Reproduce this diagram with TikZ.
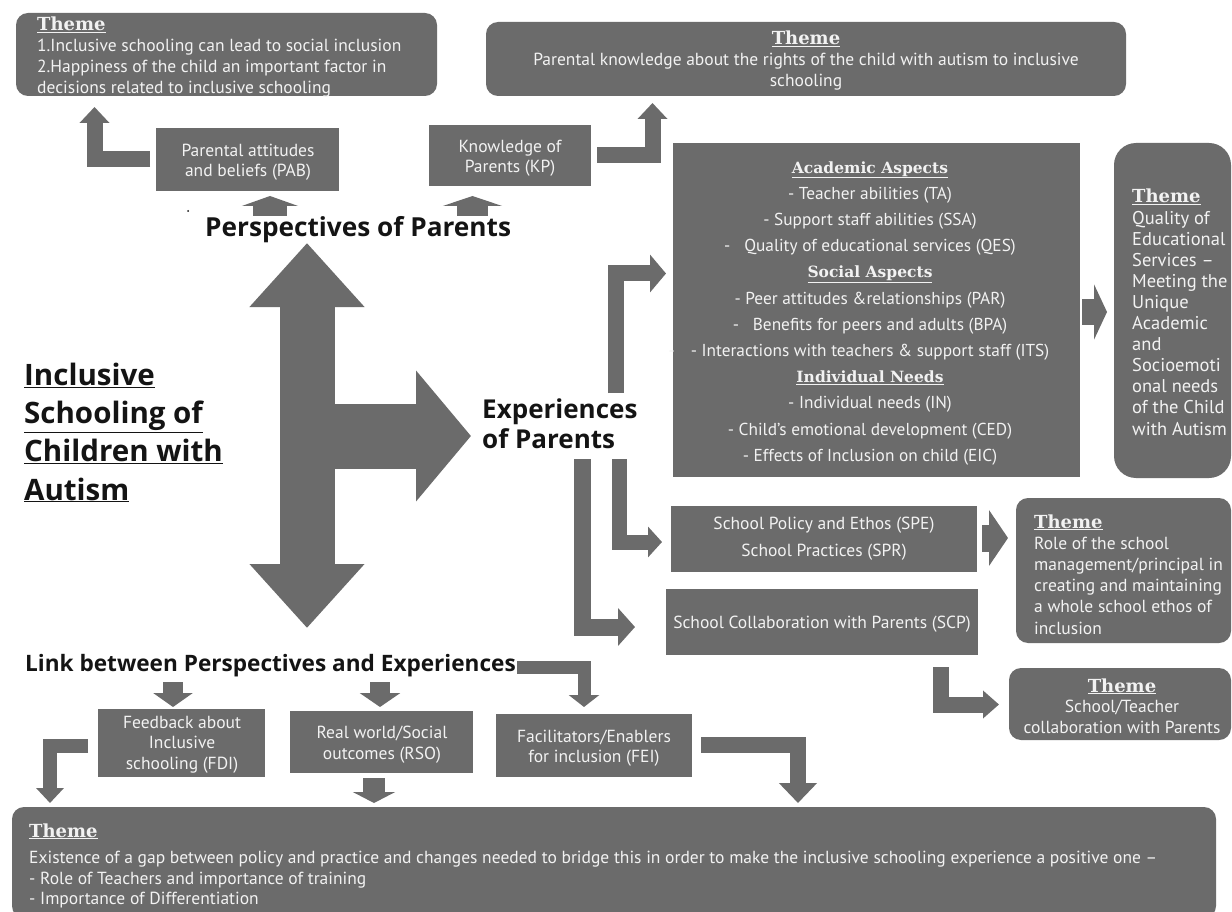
\documentclass[tikz,border=0pt]{standalone}
\usepackage{fontspec}
\setmainfont{PT Sans}
\newfontfamily\hfont{Open Sans}
\newfontfamily\serifhd{DejaVu Serif}
\usetikzlibrary{arrows.meta,calc}
\definecolor{boxgray}{HTML}{6B6B6B}
\definecolor{boxtext}{HTML}{F2F2F2}
\definecolor{darktext}{HTML}{141414}
\newcommand{\Hd}[2]{{\serifhd\bfseries\fontsize{#1}{#1}\selectfont\underline{#2}}}
\newcommand{\BoxAt}[6]{%
  \pgfmathsetmacro\bw{#5-#3}\pgfmathsetmacro\bh{#6-#4}%
  \pgfmathsetmacro\bx{(#3+#5)/2}\pgfmathsetmacro\by{(#4+#6)/2}%
  \node[#2, minimum width=\bw pt, minimum height=\bh pt] (#1) at (\bx,\by) {};}
\tikzset{
  rbox/.style={fill=boxgray, draw=none, rounded corners=12pt, inner sep=0pt, outer sep=0pt},
  rboxbig/.style={fill=boxgray, draw=none, rounded corners=22pt, inner sep=0pt, outer sep=0pt},
  sbox/.style={fill=boxgray, draw=none, inner sep=0pt, outer sep=0pt},
  btxt/.style={text=boxtext, inner sep=0pt},
  htxt/.style={text=darktext, inner sep=0pt, font=\hfont\bfseries},
  barrow/.style={draw=boxgray, line join=miter, line cap=butt},
}
\begin{document}
\begin{tikzpicture}[x=1pt,y=-1pt]
\useasboundingbox (0,0) rectangle (1232,912);
\fill[white] (0,0) rectangle (1232,912);

% ---------- boxes ----------
\BoxAt{th1}{rbox}{16}{13}{437}{96}
\BoxAt{th2}{rbox}{486}{22}{1126}{96}
\BoxAt{pab}{sbox}{156}{128}{339}{191}
\BoxAt{kp}{sbox}{429}{125}{591}{186}
\BoxAt{acad}{sbox}{673}{143}{1080}{477}
\BoxAt{thq}{rboxbig}{1114}{143}{1231}{478}
\BoxAt{spe}{sbox}{671}{506}{977}{572}
\BoxAt{scp}{sbox}{666}{589}{978}{655}
\BoxAt{throle}{rbox}{1016}{498}{1231}{643}
\BoxAt{thst}{rbox}{1009}{668}{1231}{740}
\BoxAt{fdi}{sbox}{98}{709}{265}{777}
\BoxAt{rso}{sbox}{290}{711}{473}{773}
\BoxAt{fei}{sbox}{496}{714}{692}{777}
\BoxAt{thb}{rbox}{12}{807}{1216}{918}

% ---------- box texts (anchored at the baseline of the last line) ----------
\node[btxt, anchor=base west, align=left, font=\fontsize{17.5}{21}\selectfont] (th1t) at (37,94)
  {\Hd{18}{Theme}\\1.Inclusive schooling can lead to social inclusion\\2.Happiness of the child an important factor in\\decisions related to inclusive schooling};
\node[btxt, anchor=base, align=center, font=\fontsize{17.5}{21}\selectfont] (th2t) at (806,87)
  {\Hd{18}{Theme}\\Parental knowledge about the rights of the child with autism to inclusive\\schooling};
\node[btxt, anchor=base, align=center, font=\fontsize{17.5}{20}\selectfont] (pabt) at (248,177)
  {Parental attitudes\\and beliefs (PAB)};
\node[btxt, anchor=base, align=center, font=\fontsize{17.5}{20}\selectfont] (kpt) at (510,173)
  {Knowledge of\\Parents (KP)};
\node[btxt, anchor=base, align=center, font=\fontsize{17.3}{26.2}\selectfont] (acadt) at (870,461.2)
  {\Hd{15.5}{Academic Aspects}\\
   - Teacher abilities (TA)\\
   - Support staff abilities (SSA)\\
   -\ \ \ Quality of educational services (QES)\\
   \Hd{15.5}{Social Aspects}\\
   - Peer attitudes \&relationships (PAR)\\
   -\ \ \ Benefits for peers and adults (BPA)\\
   \llap{-\hspace{16pt}}- Interactions with teachers \& support staff (ITS)\\
   \Hd{15.5}{Individual Needs}\\
   - Individual needs (IN)\\
   - Child's emotional development (CED)\\
   - Effects of Inclusion on child (EIC)};
\node[btxt, anchor=base west, align=left, font=\fontsize{18.5}{21.1}\selectfont] (thqt) at (1132,435)
  {\Hd{18}{Theme}\\Quality of\\Educational\\Services --\\Meeting the\\Unique\\Academic\\and\\Socioemoti\\onal needs\\of the Child\\with Autism};
\node[btxt, anchor=base, align=center, font=\fontsize{17.5}{27}\selectfont] (spet) at (824,556)
  {School Policy and Ethos (SPE)\\School Practices (SPR)};
\node[btxt, anchor=base, align=center, font=\fontsize{17.5}{20}\selectfont] (scpt) at (822,628)
  {School Collaboration with Parents (SCP)};
\node[btxt, anchor=base west, align=left, font=\fontsize{17.5}{21.2}\selectfont] (throlet) at (1034,634)
  {\Hd{18}{Theme}\\Role of the school\\management/principal in\\creating and maintaining\\a whole school ethos of\\inclusion};
\node[btxt, anchor=base, align=center, font=\fontsize{17.5}{20.5}\selectfont] (thstt) at (1122,733)
  {\Hd{18}{Theme}\\School/Teacher\\collaboration with Parents};
\node[btxt, anchor=base, align=center, font=\fontsize{17.5}{20.5}\selectfont] (fdit) at (182,769)
  {Feedback about\\Inclusive\\schooling (FDI)};
\node[btxt, anchor=base, align=center, font=\fontsize{17.5}{21}\selectfont] (rsot) at (382,759)
  {Real world/Social\\outcomes (RSO)};
\node[btxt, anchor=base, align=center, font=\fontsize{17.5}{20}\selectfont] (feit) at (594,762)
  {Facilitators/Enablers\\for inclusion (FEI)};
\node[btxt, anchor=base west, align=left, font=\fontsize{17.5}{20}\selectfont] (thbt) at (29,904.5)
  {\Hd{18}{Theme}\\[6.5pt]Existence of a gap between policy and practice and changes needed to bridge this in order to make the inclusive schooling experience a positive one --\\[1pt]- Role of Teachers and importance of training\\- Importance of Differentiation};

% ---------- free texts ----------
\node[htxt, anchor=base west, align=left, font=\hfont\bfseries\fontsize{29.5}{38.3}\selectfont] (title) at (24,500)
  {\underline{Inclusive}\\\underline{Schooling of}\\\underline{Children with}\\\underline{Autism}};
\node[htxt, anchor=base west, font=\hfont\bfseries\fontsize{26.2}{30}\selectfont] (persp) at (205,237) {Perspectives of Parents};
\node[htxt, anchor=base west, align=left, font=\hfont\bfseries\fontsize{26}{30}\selectfont] (exper) at (482,448) {Experiences\\of Parents};
\node[htxt, anchor=base west, font=\hfont\bfseries\fontsize{22.6}{26}\selectfont] (link) at (25,671) {Link between Perspectives and Experiences};
\fill[darktext] (188,211) circle (1pt);

% ---------- central double arrow ----------
\coordinate (vtop) at (307,243);
\coordinate (vbot) at (307,628);
\coordinate (hmid) at (307,436);
\coordinate (hend) at (471,436);
\draw[barrow, line width=55pt, {Triangle[width=111pt,length=64pt]}-{Triangle[width=111pt,length=64pt]}] (vtop) -- (vbot);
\draw[barrow, line width=65pt, -{Triangle[width=128pt,length=55pt]}] (hmid) -- (hend);

% ---------- perspectives arrows ----------
\draw[barrow, line width=34pt, -{Triangle[width=56pt,length=10pt]}] ($(pab.south)+(22.5,25)$) -- ($(pab.south)+(22.5,5)$);
\draw[barrow, line width=31pt, -{Triangle[width=59pt,length=10pt]}] ($(kp.south)+(-37.5,30)$) -- ($(kp.south)+(-37.5,10)$);
\draw[barrow, line width=16pt, -{Triangle[width=29pt,length=16pt]}] ([xshift=-6pt]pab.west) -| ($(th1.south west)+(78.5,11)$);
\draw[barrow, line width=16pt, -{Triangle[width=29pt,length=16pt]}] ([xshift=6pt]kp.east) -| ($(th2.south west)+(166.5,7)$);

% ---------- experiences arrows ----------
\coordinate (e1) at (615.5,393);
\coordinate (e2) at (619.5,459);
\coordinate (e3) at (582,459);
\draw[barrow, line width=16pt, -{Triangle[width=37pt,length=16pt]}] (e1) |- ($(acad.north west)+(-7,130.5)$);
\draw[barrow, line width=15pt, -{Triangle[width=30pt,length=14pt]}] (e2) |- ($(spe.west)+(-9,3)$);
\draw[barrow, line width=17pt, -{Triangle[width=37pt,length=17pt]}] (e3) |- ($(scp.west)+(-31,5)$);
\draw[barrow, line width=26pt, -{Triangle[width=55pt,length=13pt]}] ($(acad.east)+(2,2)$) -- ($(acad.east)+(27,2)$);
\draw[barrow, line width=27pt, -{Triangle[width=55pt,length=19pt]}] ($(spe.east)+(5,-1)$) -- ($(spe.east)+(31,-1)$);
\draw[barrow, line width=16pt, -{Triangle[width=27pt,length=16pt]}] ($(scp.south east)+(-37,12)$) |- ($(thst.west)+(-10,0.5)$);

% ---------- link arrows ----------
\draw[barrow, line width=20pt, -{Triangle[width=39pt,length=14pt]}] ($(fdi.north)+(-8.5,-27)$) -- ($(fdi.north)+(-8.5,-2)$);
\draw[barrow, line width=20pt, -{Triangle[width=40pt,length=14pt]}] ($(rso.north)+(-1.5,-29)$) -- ($(rso.north)+(-1.5,-4)$);
\draw[barrow, line width=13pt, -{Triangle[width=30pt,length=12pt]}] ($(link.base east)+(1,-3.5)$) -| ($(fei.north)+(-10,-7)$);
\draw[barrow, line width=14pt, -{Triangle[width=27pt,length=15pt]}] ($(fdi.west)+(-10,3)$) -| ($(thb.north west)+(38,-4)$);
\draw[barrow, line width=22pt, -{Triangle[width=42pt,length=11pt]}] ($(rso.south)+(-7.5,5)$) -- ($(rso.south)+(-7.5,30)$);
\draw[barrow, line width=16pt, -{Triangle[width=37pt,length=20pt]}] ($(fei.east)+(9,-1)$) -| ($(thb.north west)+(786,-4)$);
\end{tikzpicture}
\end{document}
